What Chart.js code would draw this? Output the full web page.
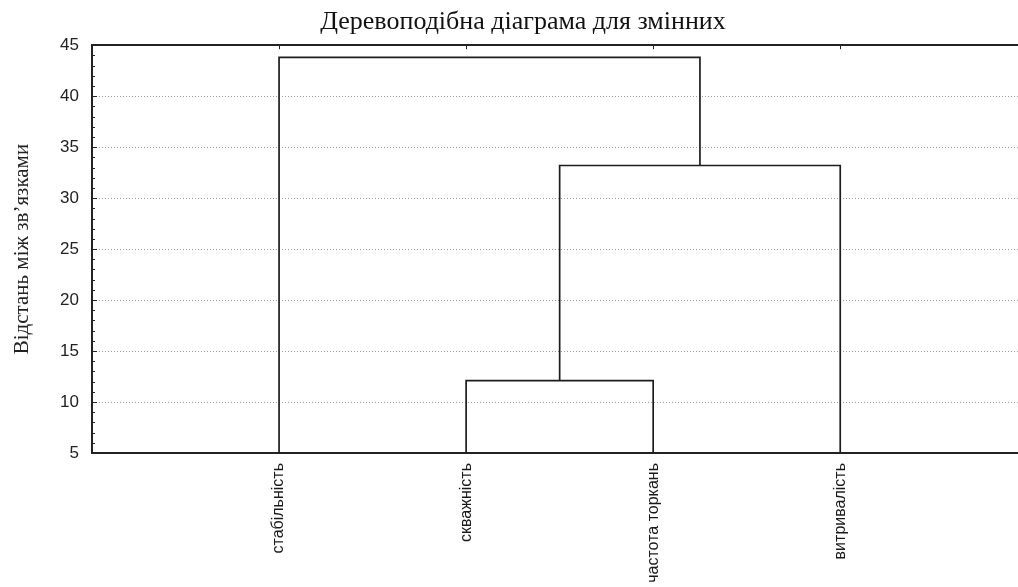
<!DOCTYPE html>
<html lang="uk">
<head>
<meta charset="utf-8">
<title>Деревоподібна діаграма для змінних</title>
<script src="https://cdn.jsdelivr.net/npm/chart.js@4.4.1/dist/chart.umd.min.js"></script>
<style>
  html, body { margin: 0; padding: 0; background: #fff; overflow: hidden; }
  #wrap { width: 1018px; height: 587px; overflow: hidden; position: relative; }
  canvas { display: block; }
</style>
</head>
<body>
<div id="wrap"><canvas id="tree" width="1046" height="587"></canvas></div>
<script>
// Variables (leaves of the tree), left to right
const leafNames = ['стабільність', 'скважність', 'частота торкань', 'витривалість'];
// Linkage: ids 0..3 are the leaves, 4, 5, 6 are the clusters in the order they are formed
const mergeLeft = [1, 4, 0];
const mergeRight = [2, 3, 5];
// Linkage distance of each merge
const mergeHeights = [12.1, 33.2, 43.8];
// Distance axis
const distanceTicks = [5, 10, 15, 20, 25, 30, 35, 40, 45];
const leafHeight = 0;

const yMin = distanceTicks[0];
const yMax = distanceTicks[distanceTicks.length - 1];

// Position of every node: leaves sit at 1..n, a cluster sits between its two children
const nodeX = leafNames.map((_, i) => i + 1);
const nodeY = leafNames.map(() => leafHeight);
mergeHeights.forEach((h, k) => {
  nodeX.push((nodeX[mergeLeft[k]] + nodeX[mergeRight[k]]) / 2);
  nodeY.push(h);
});

// One bracket-shaped line per merge
const links = mergeHeights.map((h, k) => {
  const a = mergeLeft[k], b = mergeRight[k];
  return {
    data: [
      { x: nodeX[a], y: nodeY[a] },
      { x: nodeX[a], y: h },
      { x: nodeX[b], y: h },
      { x: nodeX[b], y: nodeY[b] }
    ],
    showLine: true,
    borderColor: '#1c1c1c',
    borderWidth: 1.7,
    pointRadius: 0,
    fill: false,
    tension: 0
  };
});

// Short tick marks pointing into the plot: minor every unit on the distance axis,
// and one at each variable on the top edge
const innerTicks = {
  id: 'innerTicks',
  afterDraw(chart) {
    const { ctx, chartArea: a, scales: { x, y } } = chart;
    ctx.save();
    ctx.strokeStyle = '#222';
    ctx.lineWidth = 1;
    ctx.beginPath();
    for (let v = yMin; v <= yMax; v += 1) {
      const py = Math.round(y.getPixelForValue(v)) + 0.5;
      const len = v % 5 === 0 ? 5 : 3;
      ctx.moveTo(a.left, py);
      ctx.lineTo(a.left + len, py);
    }
    for (let i = 0; i < leafNames.length; i++) {
      const px = Math.round(x.getPixelForValue(nodeX[i])) + 0.5;
      ctx.moveTo(px, a.top);
      ctx.lineTo(px, a.top + 4);
    }
    ctx.stroke();
    ctx.restore();
  }
};

new Chart(document.getElementById('tree'), {
  type: 'scatter',
  data: { datasets: links },
  options: {
    responsive: false,
    animation: false,
    devicePixelRatio: 1,
    layout: { padding: 0 },
    plugins: {
      legend: { display: false },
      tooltip: { enabled: false },
      title: {
        display: true,
        text: 'Деревоподібна діаграма для змінних',
        color: '#111',
        font: { family: 'Liberation Serif', size: 26, weight: 'normal' },
        padding: { top: 7, bottom: 0 }
      }
    },
    scales: {
      x: {
        type: 'linear',
        position: 'bottom',
        min: 0,
        max: 5.1,
        afterBuildTicks: s => { s.ticks = leafNames.map((_, i) => ({ value: nodeX[i] })); },
        afterFit: s => { s.height = 134; },
        ticks: {
          autoSkip: false,
          minRotation: 90,
          maxRotation: 90,
          padding: 10,
          color: '#1a1a1a',
          font: { family: 'Liberation Sans', size: 16 },
          callback: (v, i) => leafNames[i]
        },
        grid: { display: false, drawTicks: false },
        border: { display: true, color: '#222', width: 2 }
      },
      xTop: {
        type: 'linear',
        axis: 'x',
        position: 'top',
        min: 0,
        max: 5.1,
        afterFit: s => { s.height = 7; },
        ticks: { display: false },
        grid: { display: false, drawTicks: false },
        border: { display: true, color: '#222', width: 2 }
      },
      y: {
        type: 'linear',
        min: yMin,
        max: yMax,
        afterBuildTicks: s => { s.ticks = distanceTicks.map(v => ({ value: v })); },
        afterFit: s => { s.width = 92; },
        ticks: {
          padding: 13,
          color: '#222',
          font: { family: 'Liberation Sans', size: 17 }
        },
        grid: { color: '#9a9a9a', lineWidth: 1, drawTicks: false },
        border: { display: true, color: '#222', width: 2, dash: [1, 2] },
        title: {
          display: true,
          text: 'Відстань між зв\u2019язками',
          color: '#222',
          font: { family: 'Liberation Serif', size: 21 },
          padding: { top: 10, bottom: 0 }
        }
      }
    }
  },
  plugins: [innerTicks]
});
</script>
</body>
</html>
